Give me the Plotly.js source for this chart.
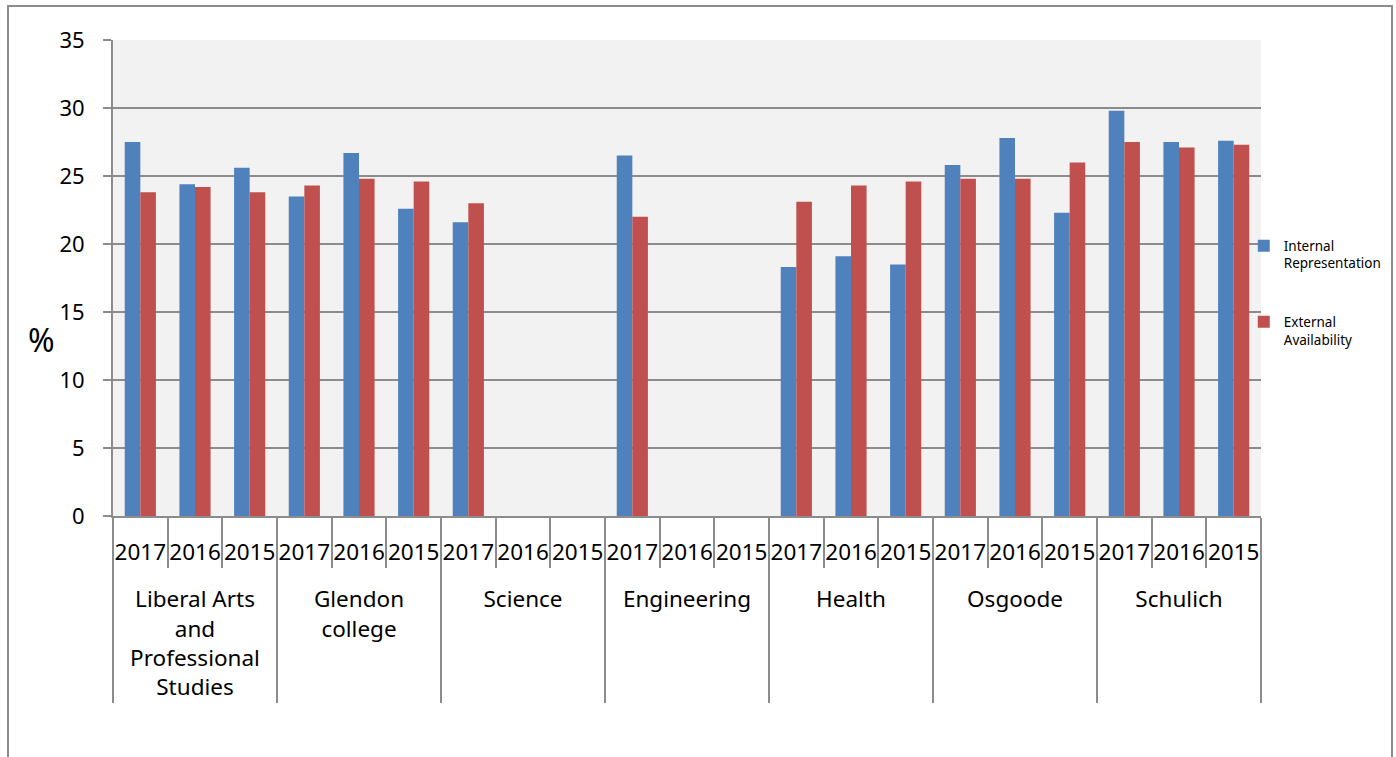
<!DOCTYPE html>
<html><head><meta charset="utf-8">
<script src="https://cdn.plot.ly/plotly-3.0.1.min.js"></script>
<style>
html,body{margin:0;padding:0;background:#fff;}
#chart{position:absolute;left:0;top:0;width:1396px;height:757px;}
#frame{position:absolute;left:7px;top:5px;width:1382px;height:800px;border:2px solid #8c8c8c;border-bottom:none;pointer-events:none;}
</style></head><body>
<div id="chart"></div><div id="frame"></div>
<script>
const faculties = ['Liberal Arts<br>and<br>Professional<br>Studies', 'Glendon<br>college', 'Science', 'Engineering', 'Health', 'Osgoode', 'Schulich'];
const years = ['2017', '2016', '2015'];
const internalRepresentation = [27.5, 24.4, 25.6, 23.5, 26.7, 22.6, 21.6, null, null, 26.5, null, null, 18.3, 19.1, 18.5, 25.8, 27.8, 22.3, 29.8, 27.5, 27.6];
const externalAvailability = [23.8, 24.2, 23.8, 24.3, 24.8, 24.6, 23.0, null, null, 22.0, null, null, 23.1, 24.3, 24.6, 24.8, 24.8, 26.0, 27.5, 27.1, 27.3];
const seriesNames = ['Internal<br>Representation', 'External<br>Availability'];
const yAxisLabel = '%';

// an empty second line under each year gives the faculty row its space below
const outer = [], inner = [];
faculties.forEach(f => years.forEach(y => { outer.push(f); inner.push(y + '<br>\u00a0'); }));

const FONT = '"Noto Sans", "Open Sans", sans-serif';
const GRID = '#8c8c8c';

const traces = [
  {type: 'bar', name: seriesNames[0], x: [outer, inner], y: internalRepresentation,
   marker: {color: '#4f81bd', line: {width: 0}}, legendgroup: 'a'},
  {type: 'bar', name: seriesNames[1], x: [outer, inner], y: externalAvailability,
   marker: {color: '#c0504d', line: {width: 0}}, legendgroup: 'b'}
];

const layout = {
  width: 1396, height: 757,
  margin: {l: 113, r: 135, t: 40, b: 241, autoexpand: false},
  paper_bgcolor: '#ffffff',
  plot_bgcolor: '#f2f2f2',
  font: {family: FONT, size: 22, color: '#000'},
  barmode: 'group',
  bargap: 0.43,
  bargroupgap: 0,
  showlegend: true,
  legend: {x: 0.985, xanchor: 'left', y: 0.60, yanchor: 'top', valign: 'top',
           font: {family: FONT, size: 13.5, color: '#000'},
           traceorder: 'grouped', tracegroupgap: 38, bgcolor: 'rgba(0,0,0,0)'},
  xaxis: {
    type: 'multicategory',
    showline: true, linecolor: GRID, linewidth: 2,
    ticks: 'outside', tickson: 'boundaries', ticklen: 50, tickwidth: 2, tickcolor: GRID,
    tickangle: 0,
    ticklabelstandoff: 15,
    dividercolor: GRID, dividerwidth: 2,
    showgrid: false,
    tickfont: {family: FONT, size: 22.5, color: '#000'}
  },
  yaxis: {
    range: [0, 35], dtick: 5, tick0: 0,
    showline: true, linecolor: GRID, linewidth: 2,
    ticks: 'outside', ticklen: 8, tickwidth: 2, tickcolor: GRID,
    ticklabelstandoff: 14,
    showgrid: true, gridcolor: GRID, gridwidth: 2,
    zeroline: false,
    tickfont: {family: FONT, size: 22, color: '#000'}
  },
  annotations: [
    {text: yAxisLabel, xref: 'paper', yref: 'paper', x: -0.062, y: 0.37,
     xanchor: 'center', yanchor: 'middle', showarrow: false,
     font: {family: FONT, size: 32, color: '#000'}}
  ]
};

Plotly.newPlot('chart', traces, layout, {displayModeBar: false, staticPlot: true});
</script>
</body></html>
